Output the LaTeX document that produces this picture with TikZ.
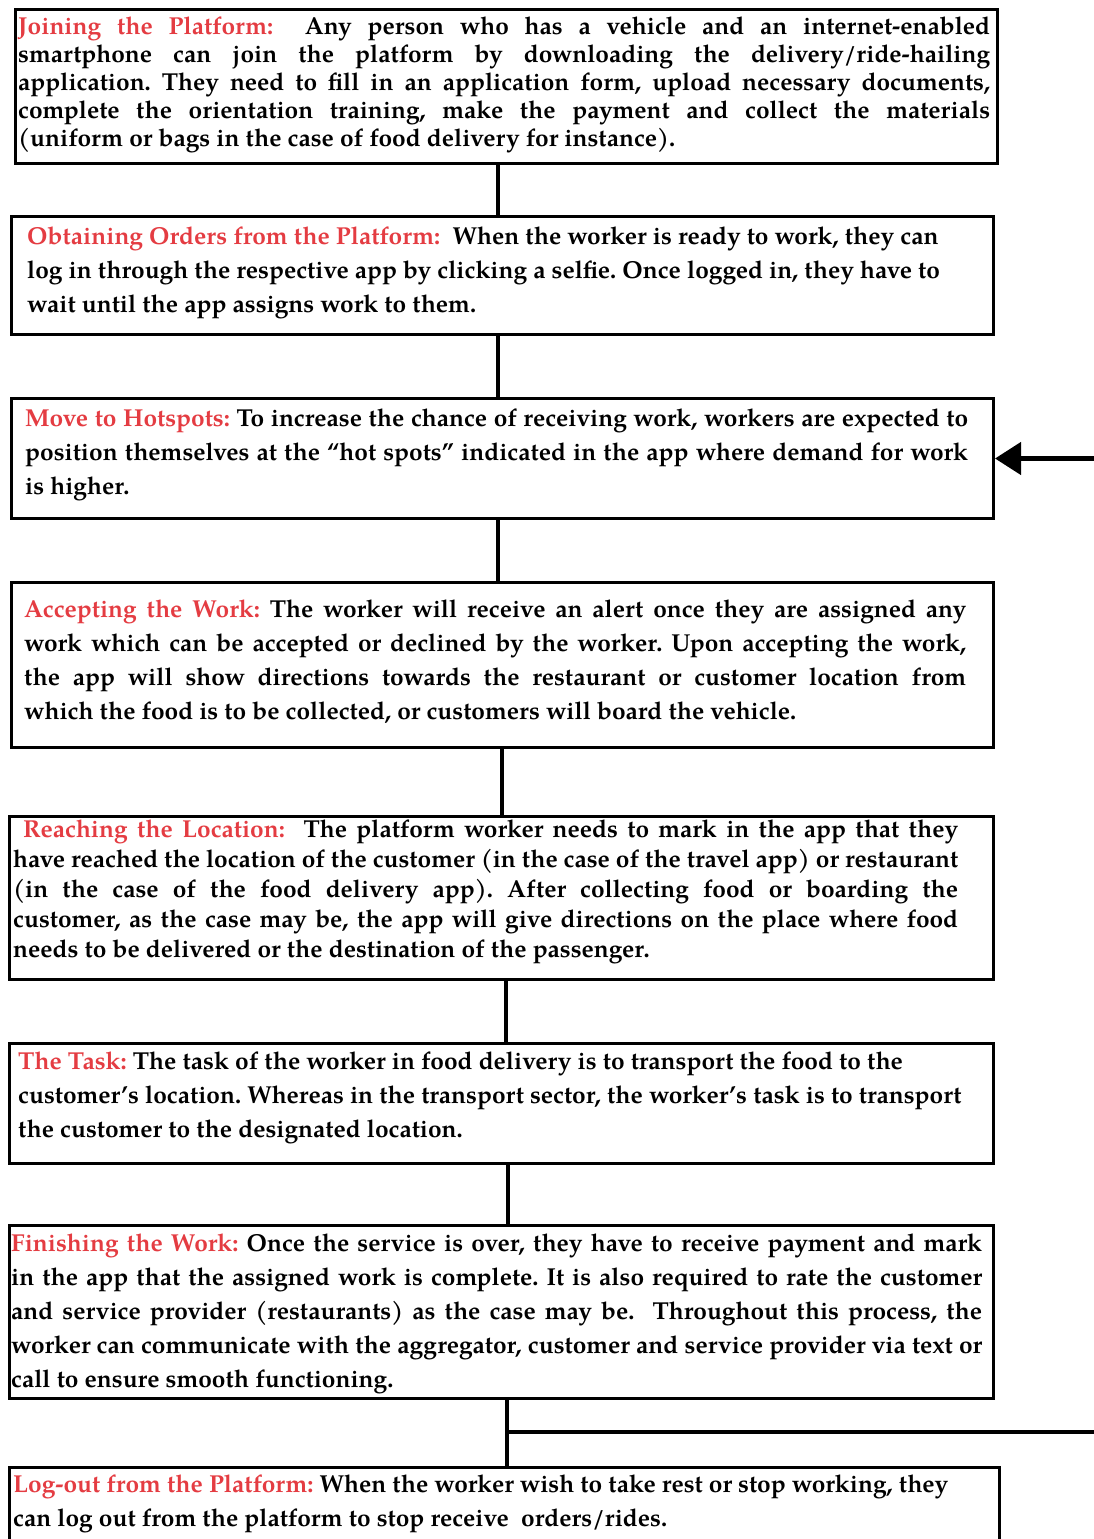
\documentclass[tikz,border=0pt]{standalone}
\usepackage{fontspec}
\setmainfont{TeX Gyre Pagella}
\usetikzlibrary{arrows.meta}
\definecolor{tred}{RGB}{228,60,66}
\newcommand{\JL}[2]{\hbox to #1pt{#2}}
\newcommand{\TT}[1]{\textcolor{tred}{#1}}
\frenchspacing
\begin{document}
\begin{tikzpicture}[x=1pt,y=-1pt,
  flowbox/.style={draw, line width=3pt, rectangle, inner sep=0pt, anchor=north west},
  desc/.style={anchor=west, inner sep=0pt, align=left},
  fA/.style={font=\bfseries\fontsize{24.5}{34}\selectfont},
  link/.style={line width=4.5pt, line join=miter}]
\useasboundingbox (0,0) rectangle (1094,1539);

% boxes
\node[flowbox, minimum width=982pt, minimum height=154pt] (b1) at (14,8) {};
\node[flowbox, minimum width=982pt, minimum height=118pt] (b2) at (10,215) {};
\node[flowbox, minimum width=982pt, minimum height=120pt] (b3) at (10,397) {};
\node[flowbox, minimum width=982pt, minimum height=165pt] (b4) at (10,581) {};
\node[flowbox, minimum width=984pt, minimum height=163pt] (b5) at (8,815) {};
\node[flowbox, minimum width=984pt, minimum height=120pt] (b6) at (8,1042) {};
\node[flowbox, minimum width=984pt, minimum height=173pt] (b7) at (8,1224) {};
\node[flowbox, minimum width=990pt, minimum height=120pt] (b8) at (8,1466) {};

% texts
\node[desc, font=\bfseries\fontsize{24.5}{28}\selectfont] (t1) at (18,85) {%
\JL{972}{\TT{Joining the Platform:}\ \ Any person who has a vehicle and an internet-enabled}\\
\JL{972}{smartphone can join the platform by downloading the delivery/ride-hailing}\\
\JL{972}{application. They need to fill in an application form, upload necessary documents,}\\
\JL{972}{complete the orientation training, make the payment and collect the materials}\\
\hbox{(uniform or bags in the case of food delivery for instance).}};

\node[desc, fA] (t2) at (27,273) {%
\hbox{\TT{Obtaining Orders from the Platform:}\ \ When the worker is ready to work, they can}\\
\hbox{log in through the respective app by clicking a selfie. Once logged in, they have to}\\
\hbox{wait until the app assigns work to them.}};

\node[desc, fA] (t3) at (25,455) {%
\JL{943}{\TT{Move to Hotspots:} To increase the chance of receiving work, workers are expected to}\\
\JL{943}{position themselves at the “hot spots” indicated in the app where demand for work}\\
\hbox{is higher.}};

\node[desc, fA] (t4) at (24,662) {%
\JL{942}{\TT{Accepting the Work:} The worker will receive an alert once they are assigned any}\\
\JL{942}{work which can be accepted or declined by the worker. Upon accepting the work,}\\
\JL{942}{the app will show directions towards the restaurant or customer location from}\\
\hbox{which the food is to be collected, or customers will board the vehicle.}};

\node[desc, font=\bfseries\fontsize{24.5}{30}\selectfont] (t5) at (13,892) {%
\JL{945}{\hspace*{10pt}\TT{Reaching the Location:}\ \ The platform worker needs to mark in the app that they}\\
\JL{945}{have reached the location of the customer (in the case of the travel app) or restaurant}\\
\JL{945}{(in the case of the food delivery app). After collecting food or boarding the}\\
\JL{945}{customer, as the case may be, the app will give directions on the place where food}\\
\hbox{needs to be delivered or the destination of the passenger.}};

\node[desc, fA] (t6) at (18,1098) {%
\hbox{\TT{The Task:} The task of the worker in food delivery is to transport the food to the}\\
\hbox{customer’s location. Whereas in the transport sector, the worker’s task is to transport}\\
\hbox{the customer to the designated location.}};

\node[desc, fA] (t7) at (11,1314) {%
\JL{971}{\TT{Finishing the Work:} Once the service is over, they have to receive payment and mark}\\
\JL{971}{in the app that the assigned work is complete. It is also required to rate the customer}\\
\JL{971}{and service provider (restaurants) as the case may be.\ \ Throughout this process, the}\\
\JL{971}{worker can communicate with the aggregator, customer and service provider via text or}\\
\hbox{call to ensure smooth functioning.}};

\node[desc, fA] (t8) at (13,1504) {%
\hbox{\TT{Log-out from the Platform:} When the worker wish to take rest or stop working, they}\\
\hbox{can log out from the platform to stop receive\ \ orders/rides.}};

% connector columns
\coordinate (xa) at (498,0);
\coordinate (xb) at (502,0);
\coordinate (xc) at (506,0);
\coordinate (xd) at (508,0);
\coordinate (xe) at (507,0);
\coordinate (xr) at (1100,0);
\coordinate (j) at (507,1432);

\draw[link] (b1.south -| xa) -- (b2.north -| xa);
\draw[link] (b2.south -| xa) -- (b3.north -| xa);
\draw[link] (b3.south -| xa) -- (b4.north -| xa);
\draw[link] (b4.south -| xb) -- (b5.north -| xb);
\draw[link] (b5.south -| xc) -- (b6.north -| xc);
\draw[link] (b6.south -| xd) -- (b7.north -| xd);
\draw[link] (b7.south -| xe) -- (b8.north -| xe);
\draw[link, -{Triangle[width=32pt,length=26pt]}] (j) -- (j -| xr) -- (b3.east -| xr) -- (b3.east);
\end{tikzpicture}
\end{document}
